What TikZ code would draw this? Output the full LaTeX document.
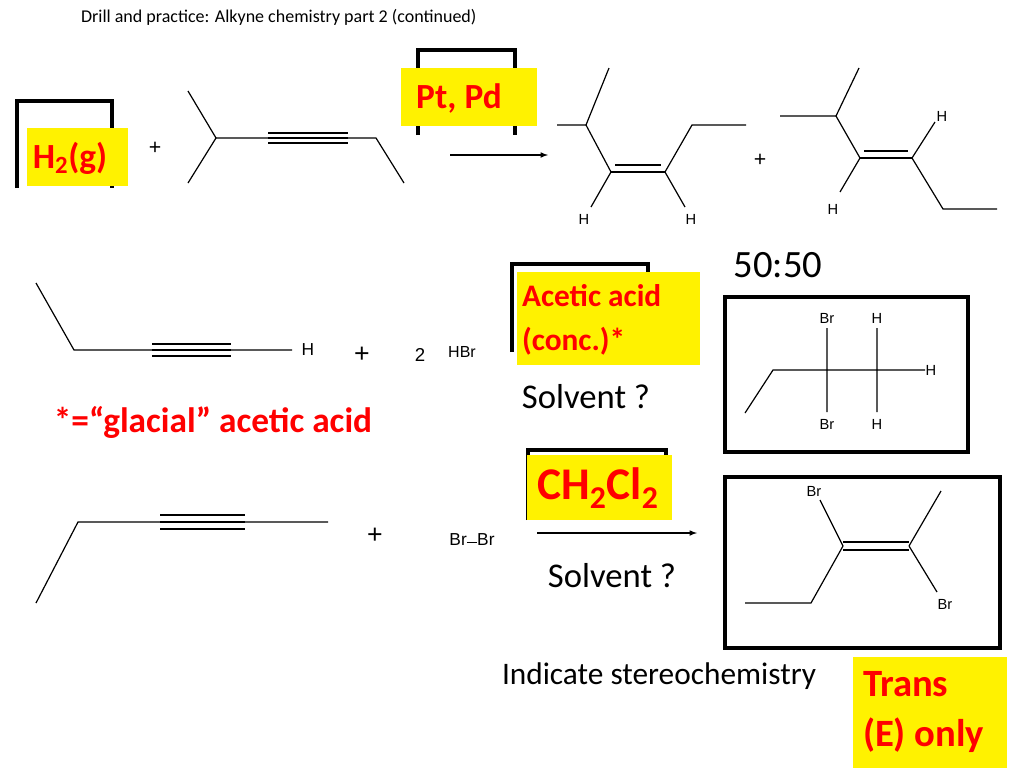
\documentclass[tikz,border=0pt]{standalone}
\usepackage{fontspec}
\setmainfont{Carlito}
\newfontfamily\arial{Liberation Sans}
\begin{document}
\begin{tikzpicture}[x=0.75pt,y=-0.75pt,line width=0.9pt,
  yb/.style={fill=yellow,draw=none},
  bb/.style={draw=black,line width=2.6pt},
  redt/.style={text=red,font=\bfseries\fontsize{26.5}{30}\selectfont},
  atm/.style={font=\arial\fontsize{11}{12}\selectfont,inner sep=1pt},
  bond/.style={line width=0.9pt}]
\useasboundingbox (0,0) rectangle (1024,768);
\node[anchor=west,font=\fontsize{13.5}{15}\selectfont] (title) at (76,17) {Drill and practice: Alkyne chemistry part 2 (continued)};
% H2
\draw[bb] (17,188) -- (17,101) -- (112,101) -- (112,188);
\fill[yb] (27,128) rectangle (128,186);
\node[redt] (h2) at (70,158) {H\textsubscript{2}(g)};
\node[font=\arial\fontsize{16}{16}\selectfont] (p1) at (155,148) {+};
% alkyne 1
\draw[bond] (188,91)--(216,138)--(188,183);
\draw[bond] (216,138)--(268,138) (348,138)--(376,138)--(404,183);
\draw[bond] (268,133)--(348,133) (268,138)--(348,138) (268,143)--(348,143);
% Pt Pd
\draw[bb] (418,135) -- (418,50) -- (515,50) -- (515,135);
\fill[yb] (401,68) rectangle (537,126);
\node[redt] (pt) at (459,98) {Pt, Pd};
\coordinate (a1) at (450,155); \coordinate (a2) at (548,155);
\draw[-latex] (a1) -- (a2);
% cis product
\draw[bond] (557,125)--(586,125)--(609,68) (586,125)--(611,172) (665,172)--(692,125)--(746,125);
\draw[bond] (611,172)--(665,172) (615,165)--(661,165);
\draw[bond] (611,172)--(591,207) (665,172)--(685,207);
\node[atm] (hc1) at (584,219) {H}; \node[atm] (hc2) at (691,219) {H};
\node[font=\arial\fontsize{16}{16}\selectfont] (p2) at (760,160) {+};
% trans product
\draw[bond] (859,68)--(836,116) (780,116)--(836,116)--(860,158) (912,158)--(935,122) (912,158)--(943,209)--(997,209) (860,158)--(840,192);
\draw[bond] (860,158)--(912,158) (864,151)--(908,151);
\node[atm] (ht1) at (942,116) {H}; \node[atm] (ht2) at (833,209) {H};
\node[font=\fontsize{29}{32}\selectfont] (ratio) at (778,265) {50:50};
% row 2
\draw[bond] (36,283)--(74,350)--(152,350) (231,350)--(292,350);
\draw[bond] (152,344)--(231,344) (152,350)--(231,350) (152,356)--(231,356);
\node[atm,font=\arial\fontsize{13}{14}\selectfont] (h3) at (308,350) {H};
\node[font=\arial\fontsize{20}{20}\selectfont] (p3) at (362,355) {+};
\node[font=\arial\fontsize{14}{14}\selectfont] (two) at (420,355) {2};
\node[atm,font=\arial\fontsize{12}{14}\selectfont] (hbr) at (462,352) {HBr};
\draw[bb] (512,352) -- (512,264) -- (648,264) -- (648,352);
\fill[yb] (517,272) rectangle (700,365);
\node[redt,anchor=west,align=left,font=\bfseries\fontsize{23.5}{33}\selectfont] (aa) at (517,320) {Acetic acid\\(conc.)*};
\node[font=\fontsize{26}{28}\selectfont] (s1) at (586,397) {Solvent ?};
\node[redt] (glac) at (213,422) {*=“glacial” acetic acid};
\draw[bb] (725,297) rectangle (968,452);
\draw[bond] (745,413)--(773,370)--(925,370) (827,328)--(827,412) (877,328)--(877,412);
\node[atm] (b1) at (827,318) {Br}; \node[atm] (b2) at (827,424) {Br};
\node[atm] (h4) at (877,318) {H}; \node[atm] (h5) at (877,424) {H}; \node[atm] (h6) at (931,370) {H};
% row 3
\draw[bond] (36,603)--(78,522)--(160,522) (245,522)--(328,522);
\draw[bond] (160,515)--(245,515) (160,522)--(245,522) (160,529)--(245,529);
\node[font=\arial\fontsize{20}{20}\selectfont] (p4) at (375,536) {+};
\node[atm,font=\arial\fontsize{13}{14}\selectfont] (brbr) at (472,540) {Br\rule[0.35ex]{0.6em}{0.6pt}Br};
\draw[bb] (528,520) -- (528,450) -- (666,450) -- (666,520);
\fill[yb] (527,455) rectangle (672,520);
\node[redt,font=\bfseries\fontsize{34}{36}\selectfont] (ch) at (598,488) {CH\textsubscript{2}Cl\textsubscript{2}};
\coordinate (a3) at (537,533); \coordinate (a4) at (697,533);
\draw[-latex] (a3) -- (a4);
\node[font=\fontsize{26}{28}\selectfont] (s2) at (612,576) {Solvent ?};
\draw[bb] (725,477) rectangle (1000,648);
\draw[bond] (820,500)--(843,546) (909,546)--(941,491) (843,546)--(811,603)--(745,603) (909,546)--(937,592);
\draw[bond] (843,542)--(909,542) (843,550)--(909,550);
\node[atm] (b3) at (814,491) {Br}; \node[atm] (b4) at (945,604) {Br};
\node[font=\fontsize{23.5}{26}\selectfont] (ind) at (659,676) {Indicate stereochemistry};
\fill[yb] (853,657) rectangle (1007,768);
\node[redt,anchor=west,align=left,font=\bfseries\fontsize{29}{38}\selectfont] (tr) at (858,712) {Trans\\(E) only};
\end{tikzpicture}
\end{document}
